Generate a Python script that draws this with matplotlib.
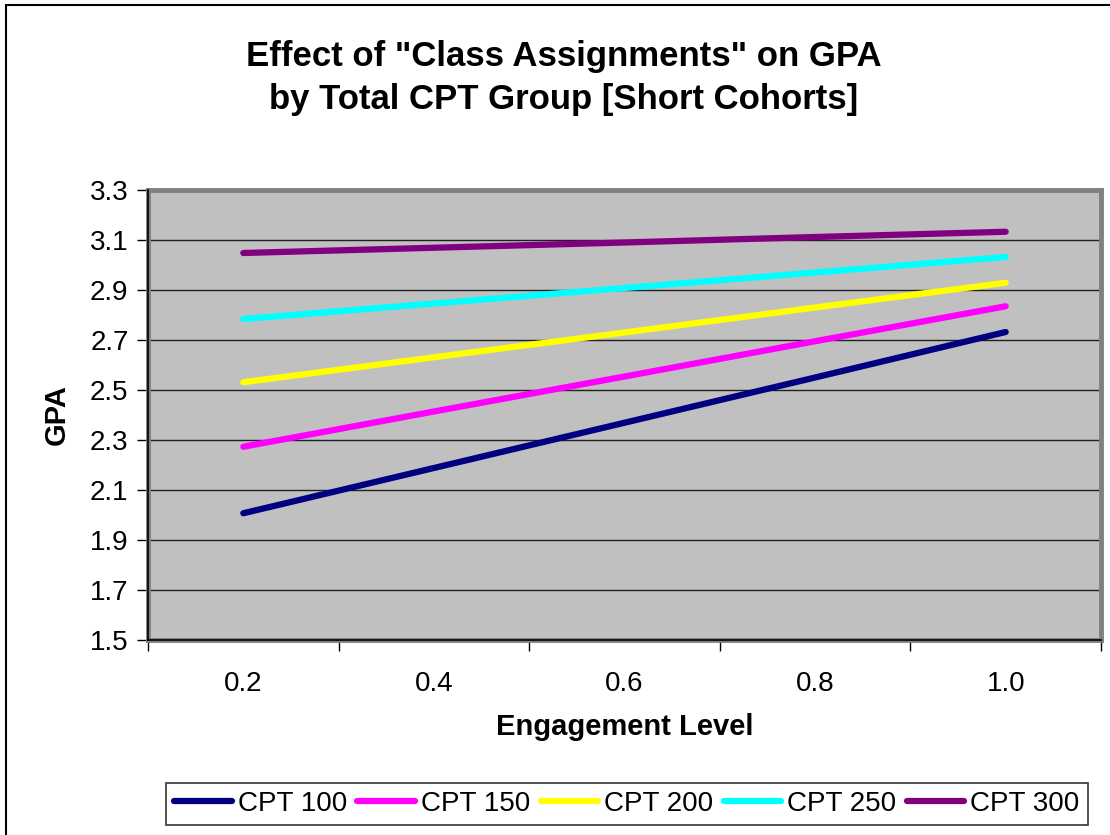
import matplotlib.pyplot as plt
from matplotlib.patches import Rectangle

plt.rcParams['font.family'] = ['Liberation Sans', 'DejaVu Sans']

# data
levels = ['0.2', '0.4', '0.6', '0.8', '1.0']
cpt_100 = [2.007, 2.188, 2.369, 2.550, 2.732]
cpt_150 = [2.273, 2.414, 2.554, 2.695, 2.835]
cpt_200 = [2.531, 2.631, 2.730, 2.830, 2.929]
cpt_250 = [2.784, 2.846, 2.908, 2.970, 3.032]
cpt_300 = [3.048, 3.069, 3.090, 3.112, 3.133]
series_names = ['CPT 100', 'CPT 150', 'CPT 200', 'CPT 250', 'CPT 300']
colors = ['#000080', '#FF00FF', '#FFFF00', '#00FFFF', '#800080']
y_ticks = [1.5, 1.7, 1.9, 2.1, 2.3, 2.5, 2.7, 2.9, 3.1, 3.3]

fig = plt.figure(figsize=(11.1, 8.35), dpi=100)
ax = fig.add_axes([148 / 1110, 1 - 640 / 835, (1101 - 148) / 1110, (640 - 190) / 835])
ax.set_facecolor('#C0C0C0')

x = list(range(len(levels)))
for name, vals, c in zip(series_names, [cpt_100, cpt_150, cpt_200, cpt_250, cpt_300], colors):
    ax.plot(x, vals, color=c, lw=4.5, solid_capstyle='round', label=name, zorder=3)

ax.set_xlim(-0.5, len(levels) - 0.5)
ax.set_ylim(1.5, 3.3)
ax.set_yticks(y_ticks)
ax.set_yticklabels([f'{v:.1f}' for v in y_ticks], fontsize=20)
ax.set_xticks([i - 0.5 for i in range(len(levels) + 1)])
ax.set_xticklabels([])
ax.set_xticks(x, minor=True)
ax.set_xticklabels(levels, minor=True, fontsize=20)
ax.tick_params(axis='x', which='minor', length=0, pad=22)
ax.tick_params(axis='x', which='major', length=8, width=1, direction='out')
ax.tick_params(axis='y', length=8, width=1, direction='out', pad=6)

for v in y_ticks[1:-1]:
    ax.axhline(v, color='#202020', lw=1, zorder=1)

for s in ax.spines.values():
    s.set_color('#808080')
    s.set_linewidth(3.5)
ax.plot([0, 0], [0, 1], transform=ax.transAxes, color='black', lw=1.2, clip_on=False, zorder=4)
ax.plot([0, 1], [0, 0], transform=ax.transAxes, color='black', lw=1.2, clip_on=False, zorder=4)

ax.set_ylabel('GPA', fontsize=21, fontweight='bold', labelpad=14)
ax.set_xlabel('Engagement Level', fontsize=21, fontweight='bold', labelpad=12)

fig.text(0.508, 1 - 78 / 835, 'Effect of "Class Assignments" on GPA\nby Total CPT Group [Short Cohorts]',
         ha='center', va='center', fontsize=25, fontweight='bold', linespacing=1.37)

leg = fig.legend(loc='center', bbox_to_anchor=(627 / 1110, 1 - 804 / 835), ncol=5,
                 fontsize=20, frameon=True, fancybox=False, handlelength=2.08,
                 handletextpad=0.22, columnspacing=0.36, borderpad=0.3)
leg.get_frame().set_edgecolor('black')
leg.get_frame().set_linewidth(1.2)

fig.patches.append(Rectangle((6 / 1110, -0.1), 1.2, 1 - 5 / 835 + 0.1, transform=fig.transFigure,
                             fill=False, edgecolor='black', lw=1.5))

fig.savefig('out.png', dpi=100)
